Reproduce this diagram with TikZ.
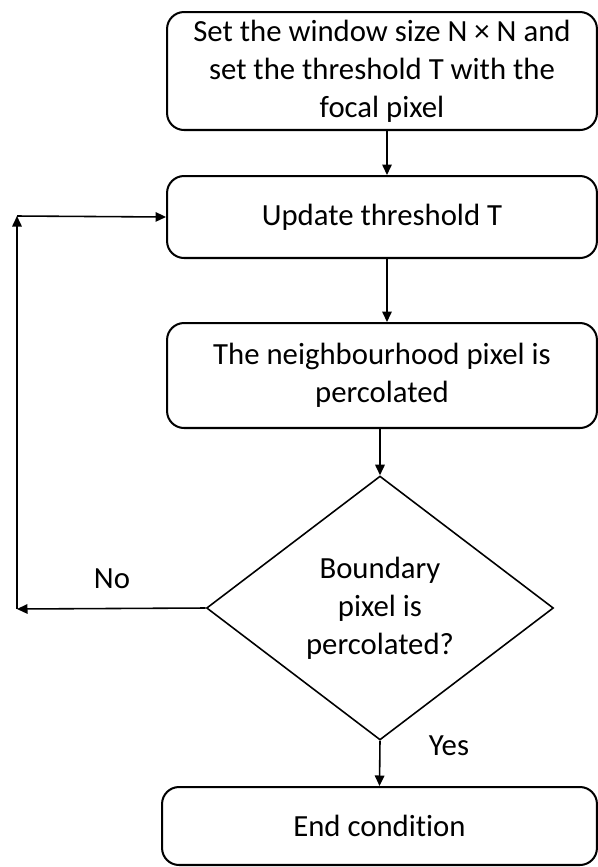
\documentclass[tikz,border=0pt]{standalone}
\usepackage{fontspec}
\setmainfont{Carlito}[Ligatures=NoCommon]
\usetikzlibrary{shapes.geometric,arrows.meta}

\begin{document}
\begin{tikzpicture}[x=0.02cm,y=-0.02cm,
    every node/.style={font=\fontsize{17.5}{21.6}\selectfont,align=center,inner sep=0},
    box/.style={draw,line width=1.15pt,rounded corners=0.34cm,minimum width=8.6cm},
    decision/.style={draw,diamond,line width=0.9pt,minimum width=6.94cm,minimum height=5.28cm},
    arrow/.style={line width=0.9pt,-{Triangle[length=0.21cm,width=0.19cm]}}]
        \useasboundingbox (0,0) rectangle (598,867);
        \node[box,minimum height=2.36cm] (setup) at (382,71) {Set the window size N × N and\\set the threshold T with the\\focal pixel};
        \node[box,minimum height=1.64cm] (update) at (382,217) {Update threshold T};
        \node[box,minimum height=2.1cm] (perc) at (382,375.5) {The neighbourhood pixel is\\percolated};
        \node[decision] (check) at (380,608) {Boundary\\pixel is\\percolated?};
        \node[box,minimum width=8.7cm,minimum height=1.56cm] (stop) at (379.5,826) {End condition};
        \node (no) at (112,579) {No};
        \node (yes) at (449,746) {Yes};
        \coordinate (left) at (17,609);
        \coordinate (back) at (17,216);
        \draw[arrow] ([xshift=0.1cm]setup.south) -- ([xshift=0.1cm]update.north);
        \draw[arrow] ([xshift=0.1cm]update.south) -- ([xshift=0.1cm]perc.north);
        \draw[arrow] ([xshift=-0.04cm]perc.south) -- (check.north);
        \draw[arrow] (check.south) -- (stop.north);
        \draw[arrow] (check.west) -- (left);
        \draw[arrow] (left) -- (back);
        \draw[arrow] (back) -- (update.west);
      \end{tikzpicture}
\end{document}
